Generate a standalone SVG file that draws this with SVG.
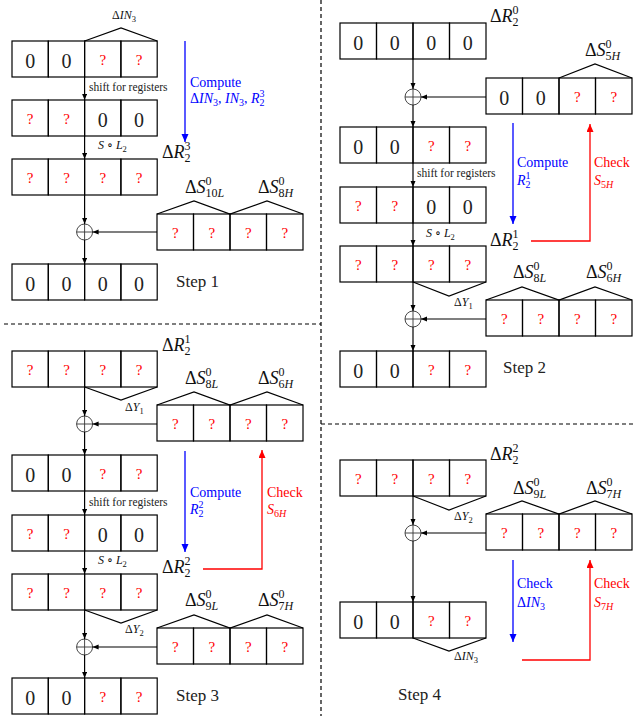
<svg xmlns="http://www.w3.org/2000/svg" width="634" height="716" viewBox="0 0 634 716" font-family="'Liberation Serif', 'Times New Roman', 'DejaVu Serif', serif">
<style>
text{font-family:"Liberation Serif","Times New Roman","DejaVu Serif",serif}
.c{fill:none;stroke:#000;stroke-width:1.2}
.z{font-size:20px;fill:#222;text-anchor:middle}
.q{font-size:15px;fill:#f00;text-anchor:middle}
.lab{font-size:18px;fill:#111}
.sm{font-size:12px;fill:#111}
.step{font-size:17px;fill:#222}
.note{font-size:11.5px;fill:#222}
.bl{font-size:14px;fill:#00f}
.rd{font-size:14px;fill:#f00}
.it{font-style:italic}
.ss{font-size:12px}
.sx{font-size:8.5px}
.sb{font-size:10px}
.tri{fill:none;stroke:#000;stroke-width:1.2}
.k{fill:none;stroke:#000;stroke-width:1.2}
.xo{fill:none;stroke:#333;stroke-width:0.9}
.blue{fill:none;stroke:#00f;stroke-width:1.3}
.red{fill:none;stroke:#f00;stroke-width:1.3}
.dash{fill:none;stroke:#000;stroke-width:1.2;stroke-dasharray:4 3}
</style>
<defs>
<marker id="ah" markerUnits="userSpaceOnUse" markerWidth="7" markerHeight="6" refX="6" refY="2.5" orient="auto"><path d="M0,0 L6,2.5 L0,5 z" fill="#000"/></marker>
<marker id="ab" markerUnits="userSpaceOnUse" markerWidth="9" markerHeight="8" refX="8" refY="3.5" orient="auto"><path d="M0,0 L8,3.5 L0,7 z" fill="#00f"/></marker>
<marker id="ar" markerUnits="userSpaceOnUse" markerWidth="9" markerHeight="8" refX="8" refY="3.5" orient="auto"><path d="M0,0 L8,3.5 L0,7 z" fill="#f00"/></marker>
</defs>
<rect width="634" height="716" fill="#fff"/>

<g id="separators">
<line class="dash" x1="321" y1="0" x2="321" y2="716"/>
<line class="dash" x1="4" y1="324" x2="321" y2="324"/>
<line class="dash" x1="321" y1="424" x2="634" y2="424"/>
</g>

<!-- ================= STEP 1 ================= -->
<g id="s1-r1">
<rect class="c" x="12" y="41" width="36.3" height="36"/><rect class="c" x="48.3" y="41" width="36.3" height="36"/><rect class="c" x="84.6" y="41" width="36.3" height="36"/><rect class="c" x="120.9" y="41" width="36.3" height="36"/>
<text class="z" x="30.2" y="67.5">0</text><text class="z" x="66.5" y="67.5">0</text><text class="q" x="102.8" y="65">?</text><text class="q" x="139.1" y="65">?</text>
<polyline class="tri" points="84.6,41 121,28 157.2,41"/>
<text class="sm" x="112" y="19">Δ<tspan class="it">IN</tspan><tspan class="sx" dy="3">3</tspan></text>
</g>
<g id="s1-r2">
<rect class="c" x="12" y="100" width="36.3" height="36"/><rect class="c" x="48.3" y="100" width="36.3" height="36"/><rect class="c" x="84.6" y="100" width="36.3" height="36"/><rect class="c" x="120.9" y="100" width="36.3" height="36"/>
<text class="q" x="30.2" y="124">?</text><text class="q" x="66.5" y="124">?</text><text class="z" x="102.8" y="126.5">0</text><text class="z" x="139.1" y="126.5">0</text>
</g>
<g id="s1-r3">
<rect class="c" x="12" y="159" width="36.3" height="36"/><rect class="c" x="48.3" y="159" width="36.3" height="36"/><rect class="c" x="84.6" y="159" width="36.3" height="36"/><rect class="c" x="120.9" y="159" width="36.3" height="36"/>
<text class="q" x="30.2" y="183">?</text><text class="q" x="66.5" y="183">?</text><text class="q" x="102.8" y="183">?</text><text class="q" x="139.1" y="183">?</text>
<text class="lab" x="162" y="158">Δ<tspan class="it">R</tspan><tspan class="ss" dy="4">2</tspan><tspan class="ss" dx="-6" dy="-12">3</tspan></text>
</g>
<g id="s1-box">
<rect class="c" x="157" y="214" width="36.5" height="36"/><rect class="c" x="193.5" y="214" width="36.5" height="36"/><rect class="c" x="230" y="214" width="36.5" height="36"/><rect class="c" x="266.5" y="214" width="36.5" height="36"/>
<text class="q" x="175.3" y="238">?</text><text class="q" x="211.8" y="238">?</text><text class="q" x="248.3" y="238">?</text><text class="q" x="284.8" y="238">?</text>
<polyline class="tri" points="157,214 194,201 230,214 267,201 303,214"/>
<text class="lab" x="185" y="193">Δ<tspan class="it">S</tspan><tspan class="ss" dy="-8">0</tspan><tspan class="ss" dx="-6" dy="12">10<tspan class="it">L</tspan></tspan></text>
<text class="lab" x="258" y="193">Δ<tspan class="it">S</tspan><tspan class="ss" dy="-8">0</tspan><tspan class="ss" dx="-6" dy="12">8<tspan class="it">H</tspan></tspan></text>
</g>
<g id="s1-xor"><circle class="xo" cx="84.6" cy="232" r="8"/><line class="xo" x1="76.6" y1="232" x2="92.6" y2="232"/><line class="xo" x1="84.6" y1="224" x2="84.6" y2="240"/></g>
<g id="s1-r4">
<rect class="c" x="12" y="264" width="36.3" height="36"/><rect class="c" x="48.3" y="264" width="36.3" height="36"/><rect class="c" x="84.6" y="264" width="36.3" height="36"/><rect class="c" x="120.9" y="264" width="36.3" height="36"/>
<text class="z" x="30.2" y="290.5">0</text><text class="z" x="66.5" y="290.5">0</text><text class="z" x="102.8" y="290.5">0</text><text class="z" x="139.1" y="290.5">0</text>
<text class="step" x="176" y="287">Step 1</text>
</g>
<g id="s1-notes">
<text class="note" x="89" y="91">shift for registers</text>
<text class="sm" x="98" y="149"><tspan class="it">S</tspan> ∘ <tspan class="it">L</tspan><tspan class="sx" dy="3">2</tspan></text>
<text class="bl" x="190" y="87">Compute</text>
<text class="bl" x="190" y="103">Δ<tspan class="it">IN</tspan><tspan class="sb" dy="3">3</tspan><tspan dy="-3">, </tspan><tspan class="it">IN</tspan><tspan class="sb" dy="3">3</tspan><tspan dy="-3">, </tspan><tspan class="it">R</tspan><tspan class="sb" dy="3">2</tspan><tspan class="sb" dx="-5" dy="-9">3</tspan></text>
</g>

<!-- ================= STEP 2 ================= -->
<g id="s2-r1">
<rect class="c" x="340" y="23" width="36.5" height="36"/><rect class="c" x="376.5" y="23" width="36.5" height="36"/><rect class="c" x="413" y="23" width="36.5" height="36"/><rect class="c" x="449.5" y="23" width="36.5" height="36"/>
<text class="z" x="358.3" y="49.5">0</text><text class="z" x="394.8" y="49.5">0</text><text class="z" x="431.3" y="49.5">0</text><text class="z" x="467.8" y="49.5">0</text>
<text class="lab" x="490" y="22">Δ<tspan class="it">R</tspan><tspan class="ss" dy="4">2</tspan><tspan class="ss" dx="-6" dy="-12">0</tspan></text>
</g>
<g id="s2-box1">
<rect class="c" x="486" y="78" width="36.5" height="36"/><rect class="c" x="522.5" y="78" width="36.5" height="36"/><rect class="c" x="559" y="78" width="36.5" height="36"/><rect class="c" x="595.5" y="78" width="36.5" height="36"/>
<text class="z" x="504.3" y="104.5">0</text><text class="z" x="540.8" y="104.5">0</text><text class="q" x="577.3" y="102">?</text><text class="q" x="613.8" y="102">?</text>
<polyline class="tri" points="559,78 595,64 632,78"/>
<text class="lab" x="585" y="56">Δ<tspan class="it">S</tspan><tspan class="ss" dy="-8">0</tspan><tspan class="ss" dx="-6" dy="12">5<tspan class="it">H</tspan></tspan></text>
</g>
<g id="s2-xor1"><circle class="xo" cx="413" cy="97" r="8"/><line class="xo" x1="405" y1="97" x2="421" y2="97"/><line class="xo" x1="413" y1="89" x2="413" y2="105"/></g>
<g id="s2-r2">
<rect class="c" x="340" y="127" width="36.5" height="36"/><rect class="c" x="376.5" y="127" width="36.5" height="36"/><rect class="c" x="413" y="127" width="36.5" height="36"/><rect class="c" x="449.5" y="127" width="36.5" height="36"/>
<text class="z" x="358.3" y="153.5">0</text><text class="z" x="394.8" y="153.5">0</text><text class="q" x="431.3" y="151">?</text><text class="q" x="467.8" y="151">?</text>
</g>
<g id="s2-r3">
<rect class="c" x="340" y="187" width="36.5" height="36"/><rect class="c" x="376.5" y="187" width="36.5" height="36"/><rect class="c" x="413" y="187" width="36.5" height="36"/><rect class="c" x="449.5" y="187" width="36.5" height="36"/>
<text class="q" x="358.3" y="211">?</text><text class="q" x="394.8" y="211">?</text><text class="z" x="431.3" y="213.5">0</text><text class="z" x="467.8" y="213.5">0</text>
</g>
<g id="s2-r4">
<rect class="c" x="340" y="246" width="36.5" height="36"/><rect class="c" x="376.5" y="246" width="36.5" height="36"/><rect class="c" x="413" y="246" width="36.5" height="36"/><rect class="c" x="449.5" y="246" width="36.5" height="36"/>
<text class="q" x="358.3" y="270">?</text><text class="q" x="394.8" y="270">?</text><text class="q" x="431.3" y="270">?</text><text class="q" x="467.8" y="270">?</text>
<text class="lab" x="490" y="246">Δ<tspan class="it">R</tspan><tspan class="ss" dy="4">2</tspan><tspan class="ss" dx="-6" dy="-12">1</tspan></text>
<polyline class="tri" points="413,282 449,296 486,282"/>
<text class="sm" x="454" y="306">Δ<tspan class="it">Y</tspan><tspan class="sx" dy="3">1</tspan></text>
</g>
<g id="s2-box2">
<rect class="c" x="486" y="300" width="36.5" height="36"/><rect class="c" x="522.5" y="300" width="36.5" height="36"/><rect class="c" x="559" y="300" width="36.5" height="36"/><rect class="c" x="595.5" y="300" width="36.5" height="36"/>
<text class="q" x="504.3" y="324">?</text><text class="q" x="540.8" y="324">?</text><text class="q" x="577.3" y="324">?</text><text class="q" x="613.8" y="324">?</text>
<polyline class="tri" points="486,300 522,287 559,300 595,287 632,300"/>
<text class="lab" x="513" y="278">Δ<tspan class="it">S</tspan><tspan class="ss" dy="-8">0</tspan><tspan class="ss" dx="-6" dy="12">8<tspan class="it">L</tspan></tspan></text>
<text class="lab" x="586" y="278">Δ<tspan class="it">S</tspan><tspan class="ss" dy="-8">0</tspan><tspan class="ss" dx="-6" dy="12">6<tspan class="it">H</tspan></tspan></text>
</g>
<g id="s2-xor2"><circle class="xo" cx="413" cy="319" r="8"/><line class="xo" x1="405" y1="319" x2="421" y2="319"/><line class="xo" x1="413" y1="311" x2="413" y2="327"/></g>
<g id="s2-r5">
<rect class="c" x="340" y="351" width="36.5" height="36"/><rect class="c" x="376.5" y="351" width="36.5" height="36"/><rect class="c" x="413" y="351" width="36.5" height="36"/><rect class="c" x="449.5" y="351" width="36.5" height="36"/>
<text class="z" x="358.3" y="377.5">0</text><text class="z" x="394.8" y="377.5">0</text><text class="q" x="431.3" y="375">?</text><text class="q" x="467.8" y="375">?</text>
<text class="step" x="503" y="373">Step 2</text>
</g>
<g id="s2-notes">
<text class="note" x="417" y="177">shift for registers</text>
<text class="sm" x="426" y="237"><tspan class="it">S</tspan> ∘ <tspan class="it">L</tspan><tspan class="sx" dy="3">2</tspan></text>
<text class="bl" x="517" y="167">Compute</text>
<text class="bl" x="517" y="185"><tspan class="it">R</tspan><tspan class="sb" dy="3">2</tspan><tspan class="sb" dx="-5" dy="-9">1</tspan></text>
<text class="rd" x="594" y="167">Check</text>
<text class="rd" x="594" y="185"><tspan class="it">S</tspan><tspan class="sb" dy="3">5<tspan class="it">H</tspan></tspan></text>
</g>

<!-- ================= STEP 3 ================= -->
<g id="s3-r1">
<rect class="c" x="12" y="351" width="36.3" height="36"/><rect class="c" x="48.3" y="351" width="36.3" height="36"/><rect class="c" x="84.6" y="351" width="36.3" height="36"/><rect class="c" x="120.9" y="351" width="36.3" height="36"/>
<text class="q" x="30.2" y="375">?</text><text class="q" x="66.5" y="375">?</text><text class="q" x="102.8" y="375">?</text><text class="q" x="139.1" y="375">?</text>
<text class="lab" x="162" y="351">Δ<tspan class="it">R</tspan><tspan class="ss" dy="4">2</tspan><tspan class="ss" dx="-6" dy="-12">1</tspan></text>
<polyline class="tri" points="84.6,387 121,400 157.2,387"/>
<text class="sm" x="125" y="411">Δ<tspan class="it">Y</tspan><tspan class="sx" dy="3">1</tspan></text>
</g>
<g id="s3-box1">
<rect class="c" x="157" y="405" width="36.5" height="36"/><rect class="c" x="193.5" y="405" width="36.5" height="36"/><rect class="c" x="230" y="405" width="36.5" height="36"/><rect class="c" x="266.5" y="405" width="36.5" height="36"/>
<text class="q" x="175.3" y="429">?</text><text class="q" x="211.8" y="429">?</text><text class="q" x="248.3" y="429">?</text><text class="q" x="284.8" y="429">?</text>
<polyline class="tri" points="157,405 194,392 230,405 267,392 303,405"/>
<text class="lab" x="185" y="384">Δ<tspan class="it">S</tspan><tspan class="ss" dy="-8">0</tspan><tspan class="ss" dx="-6" dy="12">8<tspan class="it">L</tspan></tspan></text>
<text class="lab" x="258" y="384">Δ<tspan class="it">S</tspan><tspan class="ss" dy="-8">0</tspan><tspan class="ss" dx="-6" dy="12">6<tspan class="it">H</tspan></tspan></text>
</g>
<g id="s3-xor1"><circle class="xo" cx="84.6" cy="424" r="8"/><line class="xo" x1="76.6" y1="424" x2="92.6" y2="424"/><line class="xo" x1="84.6" y1="416" x2="84.6" y2="432"/></g>
<g id="s3-r2">
<rect class="c" x="12" y="455" width="36.3" height="36"/><rect class="c" x="48.3" y="455" width="36.3" height="36"/><rect class="c" x="84.6" y="455" width="36.3" height="36"/><rect class="c" x="120.9" y="455" width="36.3" height="36"/>
<text class="z" x="30.2" y="481.5">0</text><text class="z" x="66.5" y="481.5">0</text><text class="q" x="102.8" y="479">?</text><text class="q" x="139.1" y="479">?</text>
</g>
<g id="s3-r3">
<rect class="c" x="12" y="515" width="36.3" height="36"/><rect class="c" x="48.3" y="515" width="36.3" height="36"/><rect class="c" x="84.6" y="515" width="36.3" height="36"/><rect class="c" x="120.9" y="515" width="36.3" height="36"/>
<text class="q" x="30.2" y="539">?</text><text class="q" x="66.5" y="539">?</text><text class="z" x="102.8" y="541.5">0</text><text class="z" x="139.1" y="541.5">0</text>
</g>
<g id="s3-r4">
<rect class="c" x="12" y="574" width="36.3" height="36"/><rect class="c" x="48.3" y="574" width="36.3" height="36"/><rect class="c" x="84.6" y="574" width="36.3" height="36"/><rect class="c" x="120.9" y="574" width="36.3" height="36"/>
<text class="q" x="30.2" y="598">?</text><text class="q" x="66.5" y="598">?</text><text class="q" x="102.8" y="598">?</text><text class="q" x="139.1" y="598">?</text>
<text class="lab" x="162" y="573">Δ<tspan class="it">R</tspan><tspan class="ss" dy="4">2</tspan><tspan class="ss" dx="-6" dy="-12">2</tspan></text>
<polyline class="tri" points="84.6,610 121,623 157.2,610"/>
<text class="sm" x="125" y="633">Δ<tspan class="it">Y</tspan><tspan class="sx" dy="3">2</tspan></text>
</g>
<g id="s3-box2">
<rect class="c" x="157" y="628" width="36.5" height="36"/><rect class="c" x="193.5" y="628" width="36.5" height="36"/><rect class="c" x="230" y="628" width="36.5" height="36"/><rect class="c" x="266.5" y="628" width="36.5" height="36"/>
<text class="q" x="175.3" y="652">?</text><text class="q" x="211.8" y="652">?</text><text class="q" x="248.3" y="652">?</text><text class="q" x="284.8" y="652">?</text>
<polyline class="tri" points="157,628 194,615 230,628 267,615 303,628"/>
<text class="lab" x="185" y="606">Δ<tspan class="it">S</tspan><tspan class="ss" dy="-8">0</tspan><tspan class="ss" dx="-6" dy="12">9<tspan class="it">L</tspan></tspan></text>
<text class="lab" x="258" y="606">Δ<tspan class="it">S</tspan><tspan class="ss" dy="-8">0</tspan><tspan class="ss" dx="-6" dy="12">7<tspan class="it">H</tspan></tspan></text>
</g>
<g id="s3-xor2"><circle class="xo" cx="84.6" cy="647" r="8"/><line class="xo" x1="76.6" y1="647" x2="92.6" y2="647"/><line class="xo" x1="84.6" y1="639" x2="84.6" y2="655"/></g>
<g id="s3-r5">
<rect class="c" x="12" y="678" width="36.3" height="36"/><rect class="c" x="48.3" y="678" width="36.3" height="36"/><rect class="c" x="84.6" y="678" width="36.3" height="36"/><rect class="c" x="120.9" y="678" width="36.3" height="36"/>
<text class="z" x="30.2" y="704.5">0</text><text class="z" x="66.5" y="704.5">0</text><text class="q" x="102.8" y="702">?</text><text class="q" x="139.1" y="702">?</text>
<text class="step" x="176" y="701">Step 3</text>
</g>
<g id="s3-notes">
<text class="note" x="89" y="506">shift for registers</text>
<text class="sm" x="98" y="564"><tspan class="it">S</tspan> ∘ <tspan class="it">L</tspan><tspan class="sx" dy="3">2</tspan></text>
<text class="bl" x="190" y="497">Compute</text>
<text class="bl" x="190" y="514"><tspan class="it">R</tspan><tspan class="sb" dy="3">2</tspan><tspan class="sb" dx="-5" dy="-9">2</tspan></text>
<text class="rd" x="267" y="497">Check</text>
<text class="rd" x="267" y="514"><tspan class="it">S</tspan><tspan class="sb" dy="3">6<tspan class="it">H</tspan></tspan></text>
</g>

<!-- ================= STEP 4 ================= -->
<g id="s4-r1">
<rect class="c" x="340" y="460" width="36.5" height="36"/><rect class="c" x="376.5" y="460" width="36.5" height="36"/><rect class="c" x="413" y="460" width="36.5" height="36"/><rect class="c" x="449.5" y="460" width="36.5" height="36"/>
<text class="q" x="358.3" y="484">?</text><text class="q" x="394.8" y="484">?</text><text class="q" x="431.3" y="484">?</text><text class="q" x="467.8" y="484">?</text>
<text class="lab" x="490" y="460">Δ<tspan class="it">R</tspan><tspan class="ss" dy="4">2</tspan><tspan class="ss" dx="-6" dy="-12">2</tspan></text>
<polyline class="tri" points="413,496 449,510 486,496"/>
<text class="sm" x="454" y="520">Δ<tspan class="it">Y</tspan><tspan class="sx" dy="3">2</tspan></text>
</g>
<g id="s4-box">
<rect class="c" x="486" y="514" width="36.5" height="36"/><rect class="c" x="522.5" y="514" width="36.5" height="36"/><rect class="c" x="559" y="514" width="36.5" height="36"/><rect class="c" x="595.5" y="514" width="36.5" height="36"/>
<text class="q" x="504.3" y="538">?</text><text class="q" x="540.8" y="538">?</text><text class="q" x="577.3" y="538">?</text><text class="q" x="613.8" y="538">?</text>
<polyline class="tri" points="486,514 522,501 559,514 595,501 632,514"/>
<text class="lab" x="513" y="494">Δ<tspan class="it">S</tspan><tspan class="ss" dy="-8">0</tspan><tspan class="ss" dx="-6" dy="12">9<tspan class="it">L</tspan></tspan></text>
<text class="lab" x="586" y="494">Δ<tspan class="it">S</tspan><tspan class="ss" dy="-8">0</tspan><tspan class="ss" dx="-6" dy="12">7<tspan class="it">H</tspan></tspan></text>
</g>
<g id="s4-xor"><circle class="xo" cx="413" cy="533" r="8"/><line class="xo" x1="405" y1="533" x2="421" y2="533"/><line class="xo" x1="413" y1="525" x2="413" y2="541"/></g>
<g id="s4-r2">
<rect class="c" x="340" y="602" width="36.5" height="36"/><rect class="c" x="376.5" y="602" width="36.5" height="36"/><rect class="c" x="413" y="602" width="36.5" height="36"/><rect class="c" x="449.5" y="602" width="36.5" height="36"/>
<text class="z" x="358.3" y="628.5">0</text><text class="z" x="394.8" y="628.5">0</text><text class="q" x="431.3" y="626">?</text><text class="q" x="467.8" y="626">?</text>
<polyline class="tri" points="413,638 449,651 486,638"/>
<text class="sm" x="454" y="660">Δ<tspan class="it">IN</tspan><tspan class="sx" dy="3">3</tspan></text>
</g>
<g id="s4-notes">
<text class="bl" x="517" y="588">Check</text>
<text class="bl" x="517" y="607">Δ<tspan class="it">IN</tspan><tspan class="sb" dy="3">3</tspan></text>
<text class="rd" x="594" y="588">Check</text>
<text class="rd" x="594" y="607"><tspan class="it">S</tspan><tspan class="sb" dy="3">7<tspan class="it">H</tspan></tspan></text>
<text class="step" x="398" y="700">Step 4</text>
</g>

<g id="connectors">
<line class="k" x1="84.6" y1="77" x2="84.6" y2="100" marker-end="url(#ah)"/>
<line class="k" x1="84.6" y1="136" x2="84.6" y2="159" marker-end="url(#ah)"/>
<line class="k" x1="84.6" y1="195" x2="84.6" y2="224" marker-end="url(#ah)"/>
<line class="k" x1="157" y1="232" x2="92.6" y2="232" marker-end="url(#ah)"/>
<line class="k" x1="84.6" y1="240" x2="84.6" y2="264" marker-end="url(#ah)"/>
<line class="blue" x1="185" y1="41" x2="185" y2="142" marker-end="url(#ab)"/>

<line class="k" x1="413" y1="59" x2="413" y2="89" marker-end="url(#ah)"/>
<line class="k" x1="486" y1="97" x2="421" y2="97" marker-end="url(#ah)"/>
<line class="k" x1="413" y1="105" x2="413" y2="127" marker-end="url(#ah)"/>
<line class="k" x1="413" y1="163" x2="413" y2="187" marker-end="url(#ah)"/>
<line class="k" x1="413" y1="223" x2="413" y2="246" marker-end="url(#ah)"/>
<line class="k" x1="413" y1="282" x2="413" y2="311" marker-end="url(#ah)"/>
<line class="k" x1="486" y1="319" x2="421" y2="319" marker-end="url(#ah)"/>
<line class="k" x1="413" y1="327" x2="413" y2="351" marker-end="url(#ah)"/>
<line class="blue" x1="513" y1="123" x2="513" y2="224" marker-end="url(#ab)"/>
<polyline class="red" points="531,241 590,241 590,124" marker-end="url(#ar)"/>

<line class="k" x1="84.6" y1="387" x2="84.6" y2="416" marker-end="url(#ah)"/>
<line class="k" x1="157" y1="424" x2="92.6" y2="424" marker-end="url(#ah)"/>
<line class="k" x1="84.6" y1="432" x2="84.6" y2="455" marker-end="url(#ah)"/>
<line class="k" x1="84.6" y1="491" x2="84.6" y2="515" marker-end="url(#ah)"/>
<line class="k" x1="84.6" y1="551" x2="84.6" y2="574" marker-end="url(#ah)"/>
<line class="k" x1="84.6" y1="610" x2="84.6" y2="639" marker-end="url(#ah)"/>
<line class="k" x1="157" y1="647" x2="92.6" y2="647" marker-end="url(#ah)"/>
<line class="k" x1="84.6" y1="655" x2="84.6" y2="678" marker-end="url(#ah)"/>
<line class="blue" x1="185" y1="451" x2="185" y2="552" marker-end="url(#ab)"/>
<polyline class="red" points="203,569 262,569 262,450" marker-end="url(#ar)"/>

<line class="k" x1="413" y1="496" x2="413" y2="525" marker-end="url(#ah)"/>
<line class="k" x1="486" y1="533" x2="421" y2="533" marker-end="url(#ah)"/>
<line class="k" x1="413" y1="541" x2="413" y2="602" marker-end="url(#ah)"/>
<line class="blue" x1="513" y1="560" x2="513" y2="642" marker-end="url(#ab)"/>
<polyline class="red" points="522,660 590,660 590,560" marker-end="url(#ar)"/>
</g>
</svg>
